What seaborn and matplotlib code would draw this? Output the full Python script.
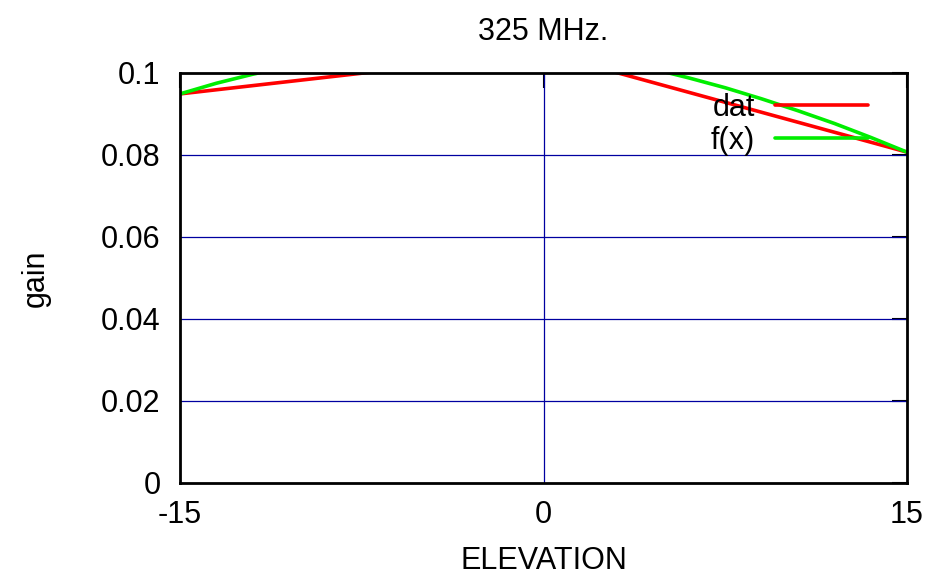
import numpy as np
import pandas as pd
import matplotlib
matplotlib.use("Agg")
import matplotlib.pyplot as plt
import seaborn as sns

# measured points (dat)
dat_x = [-15, 0, 15]
dat_y = [0.0949, 0.1050, 0.0807]

# fitted curve f(x)
fx_x = [-15, -13.5, -12, -10.5, -9, -7.5, -6, -4.5, -3, -1.5, 0,
        1.5, 3, 4.5, 6, 7.5, 9, 10.5, 12, 13.5, 15]
fx_y = [0.0949, 0.0975, 0.0997, 0.1016, 0.1031, 0.1043, 0.1051, 0.1056, 0.1057, 0.1055, 0.1050,
        0.1042, 0.1030, 0.1010, 0.0988, 0.0964, 0.0937, 0.0908, 0.0877, 0.0843, 0.0807]

x_ticks = [-15, 0, 15]
x_labels = ["-15", "0", "15"]
y_ticks = [0, 0.02, 0.04, 0.06, 0.08, 0.1]
y_labels = ["0", "0.02", "0.04", "0.06", "0.08", "0.1"]

sns.set_style("white")
plt.rcParams['font.family'] = ['Liberation Sans', 'DejaVu Sans']
plt.rcParams.update({"text.color": "black", "axes.labelcolor": "black",
                     "xtick.color": "black", "ytick.color": "black"})
fs = 22

fig = plt.figure(figsize=(9.33, 5.79), dpi=100)
ax = fig.add_axes([180/933, 1 - 483/579, 727/933, 410/579])

df_dat = pd.DataFrame({"x": dat_x, "y": dat_y})
df_fx = pd.DataFrame({"x": fx_x, "y": fx_y})
sns.lineplot(data=df_dat, x="x", y="y", ax=ax, color="#ff0000", lw=2.6, label="dat", zorder=3)
sns.lineplot(data=df_fx, x="x", y="y", ax=ax, color="#00ee00", lw=2.6, label="f(x)", zorder=3)

ax.set_xlim(-15, 15)
ax.set_ylim(0, 0.1)
ax.set_xticks(x_ticks)
ax.set_xticklabels(x_labels)
ax.set_yticks(y_ticks)
ax.set_yticklabels(y_labels)

# gnuplot-ish grid: only y lines and the x=0 line show
for yv in y_ticks[1:-1]:
    ax.axhline(yv, color="#0000a0", lw=0.9, zorder=1)
ax.axvline(0, color="#0000a0", lw=0.9, zorder=1)

for s in ax.spines.values():
    s.set_color("black")
    s.set_linewidth(2)
    s.set_zorder(4)

ax.tick_params(direction="in", length=11, width=1.5, color="black",
               top=True, right=True, labelsize=fs, labelcolor="black")
ax.tick_params(axis="y", pad=14)
ax.tick_params(axis="x", pad=12)

ax.set_xlabel("ELEVATION", fontsize=fs, labelpad=12, color="black")
ax.set_ylabel("gain", fontsize=fs, labelpad=36, color="black")
ax.set_title("325 MHz.", fontsize=fs, pad=24, color="black")

leg = ax.legend(loc="upper right", bbox_to_anchor=((868 - 180)/727, 1 - 20/410),
                frameon=False, markerfirst=False, fontsize=fs,
                handlelength=3.05, handletextpad=0.65, labelspacing=0.1,
                borderaxespad=0, borderpad=0)
for t in leg.get_texts():
    t.set_color("black")

plt.savefig("out.png", dpi=100)
